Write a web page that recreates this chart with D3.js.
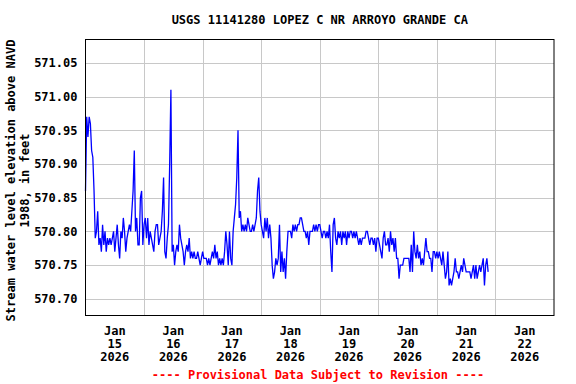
<!DOCTYPE html>
<html>
<head>
<meta charset="utf-8">
<script src="https://cdn.jsdelivr.net/npm/d3@7"></script>
<style>
  body { margin: 0; background: #fff; }
  text { font-family: "DejaVu Sans Mono", monospace; font-weight: bold; }
</style>
</head>
<body>
<div id="chart"></div>
<script>
// 30-minute gage readings, one array per day (feet above NAVD 1988)
var jan15 = [570.86, 570.97, 570.94, 570.97, 570.96, 570.92, 570.91, 570.86, 570.79, 570.80, 570.83, 570.78, 570.79, 570.77, 570.81, 570.78,
             570.80, 570.77, 570.79, 570.78, 570.79, 570.78, 570.79, 570.80, 570.77, 570.79, 570.81, 570.78, 570.76, 570.80, 570.79, 570.82,
             570.80, 570.77, 570.79, 570.80, 570.81, 570.80, 570.83, 570.86, 570.92, 570.80, 570.82, 570.78, 570.78, 570.85, 570.86, 570.78];
var jan16 = [570.81, 570.82, 570.79, 570.82, 570.78, 570.80, 570.79, 570.78, 570.77, 570.80, 570.81, 570.81, 570.78, 570.79, 570.80, 570.83,
             570.88, 570.77, 570.76, 570.79, 570.81, 570.90, 571.01, 570.77, 570.78, 570.75, 570.77, 570.78, 570.77, 570.81, 570.79, 570.78,
             570.77, 570.75, 570.77, 570.78, 570.77, 570.79, 570.76, 570.77, 570.76, 570.77, 570.76, 570.76, 570.77, 570.76, 570.75, 570.76];
var jan17 = [570.77, 570.76, 570.76, 570.76, 570.75, 570.76, 570.75, 570.76, 570.77, 570.76, 570.78, 570.76, 570.77, 570.75, 570.76, 570.75,
             570.76, 570.75, 570.77, 570.80, 570.78, 570.75, 570.80, 570.76, 570.75, 570.80, 570.82, 570.84, 570.88, 570.95, 570.82, 570.83,
             570.80, 570.81, 570.80, 570.81, 570.80, 570.82, 570.81, 570.80, 570.80, 570.81, 570.80, 570.81, 570.82, 570.86, 570.88, 570.83];
var jan18 = [570.81, 570.80, 570.79, 570.82, 570.80, 570.82, 570.79, 570.81, 570.79, 570.75, 570.73, 570.74, 570.76, 570.75, 570.76, 570.81,
             570.74, 570.77, 570.74, 570.76, 570.73, 570.77, 570.80, 570.80, 570.80, 570.79, 570.81, 570.80, 570.81, 570.80, 570.81, 570.81,
             570.82, 570.82, 570.81, 570.80, 570.80, 570.79, 570.80, 570.78, 570.80, 570.80, 570.80, 570.81, 570.80, 570.81, 570.80, 570.81];
var jan19 = [570.81, 570.80, 570.79, 570.80, 570.80, 570.79, 570.80, 570.79, 570.81, 570.77, 570.74, 570.81, 570.82, 570.79, 570.78, 570.80,
             570.79, 570.80, 570.78, 570.80, 570.79, 570.80, 570.78, 570.80, 570.79, 570.80, 570.80, 570.79, 570.80, 570.79, 570.80, 570.79,
             570.78, 570.79, 570.78, 570.79, 570.79, 570.79, 570.80, 570.80, 570.79, 570.78, 570.79, 570.79, 570.78, 570.79, 570.77, 570.79];
var jan20 = [570.79, 570.78, 570.77, 570.76, 570.79, 570.80, 570.78, 570.78, 570.79, 570.77, 570.80, 570.78, 570.79, 570.77, 570.79, 570.76,
             570.76, 570.73, 570.75, 570.75, 570.75, 570.76, 570.76, 570.76, 570.76, 570.76, 570.74, 570.78, 570.74, 570.80, 570.77, 570.76,
             570.78, 570.76, 570.77, 570.75, 570.76, 570.75, 570.77, 570.79, 570.77, 570.77, 570.76, 570.76, 570.74, 570.77, 570.77, 570.76];
var jan21 = [570.77, 570.76, 570.77, 570.76, 570.75, 570.77, 570.75, 570.73, 570.74, 570.77, 570.72, 570.73, 570.72, 570.73, 570.74, 570.76,
             570.74, 570.74, 570.73, 570.74, 570.75, 570.74, 570.76, 570.75, 570.74, 570.74, 570.74, 570.74, 570.73, 570.74, 570.75, 570.73,
             570.75, 570.73, 570.74, 570.75, 570.74, 570.75, 570.76, 570.72, 570.75, 570.76, 570.74];

var days = [jan15, jan16, jan17, jan18, jan19, jan20, jan21];
var yTicks = [570.70, 570.75, 570.80, 570.85, 570.90, 570.95, 571.00, 571.05];
var titleText = "USGS 11141280 LOPEZ C NR ARROYO GRANDE CA";
var yLabel = ["Stream water level elevation above NAVD", "1988, in feet"];
var footText = "---- Provisional Data Subject to Revision ----";

// flatten into time/value points
var series = [];
days.forEach(function (vals, d) {
    vals.forEach(function (v, i) {
        series.push({ t: new Date(Date.UTC(2026, 0, 15 + d, 0, 30 * i)), v: v });
    });
});

var W = 576, H = 384;
var plot = { left: 85.5, right: 554, top: 39.5, bottom: 315.5 };

var svg = d3.select("#chart").append("svg")
    .attr("width", W)
    .attr("height", H);

var xScale = d3.scaleUtc()
    .domain([new Date(Date.UTC(2026, 0, 15)), new Date(Date.UTC(2026, 0, 23))])
    .range([plot.left, plot.right]);

var yScale = d3.scaleLinear()
    .domain([570.6753, 571.0846])
    .range([plot.bottom, plot.top]);

// grid lines
var midnights = d3.utcDay.range(new Date(Date.UTC(2026, 0, 16)), new Date(Date.UTC(2026, 0, 23)));
svg.append("g").selectAll("line.vg")
    .data(midnights)
    .enter().append("line")
    .attr("x1", function (d) { return Math.round(xScale(d)) + 0.5; })
    .attr("x2", function (d) { return Math.round(xScale(d)) + 0.5; })
    .attr("y1", plot.top)
    .attr("y2", plot.bottom)
    .attr("stroke", "#c8c8c8")
    .attr("stroke-width", 1);

svg.append("g").selectAll("line.hg")
    .data(yTicks)
    .enter().append("line")
    .attr("x1", plot.left)
    .attr("x2", plot.right)
    .attr("y1", function (d) { return Math.round(yScale(d)) + 0.5; })
    .attr("y2", function (d) { return Math.round(yScale(d)) + 0.5; })
    .attr("stroke", "#c8c8c8")
    .attr("stroke-width", 1);

// data line
var line = d3.line()
    .x(function (d) { return xScale(d.t); })
    .y(function (d) { return yScale(d.v); });

svg.append("path")
    .datum(series)
    .attr("d", line)
    .attr("fill", "none")
    .attr("stroke", "#0000ff")
    .attr("stroke-width", 1.3);

// frame
svg.append("rect")
    .attr("x", plot.left)
    .attr("y", plot.top)
    .attr("width", plot.right - plot.left)
    .attr("height", plot.bottom - plot.top)
    .attr("fill", "none")
    .attr("stroke", "#000")
    .attr("stroke-width", 1);

// y axis labels
var yAxis = d3.axisLeft(yScale)
    .tickValues(yTicks)
    .tickSize(0)
    .tickPadding(8)
    .tickFormat(d3.format(".2f"));

svg.append("g")
    .attr("transform", "translate(" + plot.left + ",0)")
    .call(yAxis)
    .call(function (g) { g.select(".domain").remove(); })
    .selectAll("text")
    .style("font-family", "DejaVu Sans Mono, monospace")
    .style("font-weight", "bold")
    .style("font-size", "12px")
    .attr("fill", "#000");

// x axis labels: three lines centred on noon of each day
var noons = d3.range(15, 23).map(function (d) { return new Date(Date.UTC(2026, 0, d, 12)); });
var xLab = svg.append("g").selectAll("text")
    .data(noons)
    .enter().append("text")
    .attr("text-anchor", "middle")
    .style("font-size", "12px")
    .attr("transform", function (d) { return "translate(" + xScale(d) + ",0)"; });

xLab.append("tspan").attr("x", 0).attr("y", 334.5).text(d3.utcFormat("%b"));
xLab.append("tspan").attr("x", 0).attr("y", 347.5).text(d3.utcFormat("%-d"));
xLab.append("tspan").attr("x", 0).attr("y", 360.5).text(d3.utcFormat("%Y"));

// title
svg.append("text")
    .attr("x", (plot.left + plot.right) / 2)
    .attr("y", 24)
    .attr("text-anchor", "middle")
    .style("font-size", "12px")
    .text(titleText);

// y axis title
var yt = svg.append("text")
    .attr("transform", "translate(15," + ((plot.top + plot.bottom) / 2 + 3) + ") rotate(-90)")
    .attr("text-anchor", "middle")
    .style("font-size", "12px");
yt.append("tspan").attr("x", 0).attr("y", 0).text(yLabel[0]);
yt.append("tspan").attr("x", 0).attr("y", 13.5).text(yLabel[1]);

// provisional note
svg.append("text")
    .attr("x", 318)
    .attr("y", 379)
    .attr("text-anchor", "middle")
    .attr("fill", "#ff0000")
    .style("font-size", "12px")
    .text(footText);
</script>
</body>
</html>
